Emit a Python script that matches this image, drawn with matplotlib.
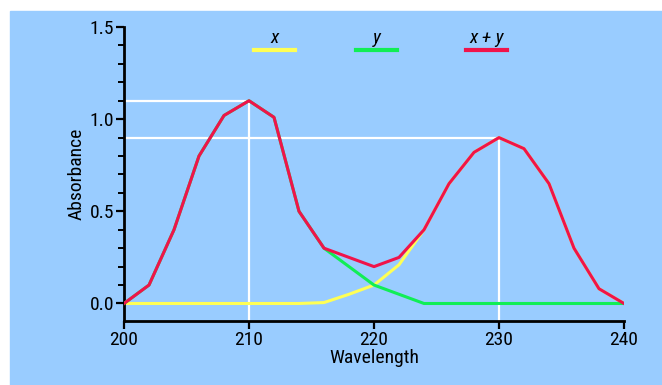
import matplotlib
matplotlib.use("Agg")
import matplotlib.pyplot as plt
from matplotlib import font_manager
from matplotlib.patches import Rectangle
from matplotlib.ticker import MultipleLocator

# wavelength grid and absorbance readings
wavelength = [200, 202, 204, 206, 208, 210, 212, 214, 216, 218, 220,
              222, 224, 226, 228, 230, 232, 234, 236, 238, 240]
abs_x = [0, 0, 0, 0, 0, 0, 0, 0, 0.005, 0.05, 0.1,
         0.21, 0.4, 0.65, 0.82, 0.9, 0.84, 0.65, 0.3, 0.08, 0]
abs_y = [0, 0.1, 0.4, 0.8, 1.02, 1.1, 1.01, 0.5, 0.3, 0.2, 0.1,
         0.05, 0, 0, 0, 0, 0, 0, 0, 0, 0]
abs_sum = [0, 0.1, 0.4, 0.8, 1.02, 1.1, 1.01, 0.5, 0.3, 0.25, 0.2,
           0.25, 0.4, 0.65, 0.82, 0.9, 0.84, 0.65, 0.3, 0.08, 0]
peaks = [(210, 1.1), (230, 0.9)]
labels = ["x", "y", "x + y"]

BLUE = "#99ccff"
YELLOW = "#ffff55"
GREEN = "#11ee55"
RED = "#f0134a"

# narrow font if there is one
have = {f.name for f in font_manager.fontManager.ttflist}
fam = "DejaVu Sans"
for cand in ["Liberation Sans Narrow", "DejaVu Sans Condensed", "Roboto Condensed"]:
    if cand in have:
        fam = cand
        break
plt.rcParams["font.family"] = [fam, "DejaVu Sans"]

fig = plt.figure(figsize=(6.62, 3.85), dpi=100, facecolor="white")
fig.patches.append(Rectangle((10 / 662, 0), 1 - 10 / 662, 1 - 11 / 385,
                             transform=fig.transFigure, color=BLUE, zorder=-5))
ax = fig.add_axes([124 / 662, 64 / 385, 500 / 662, 294 / 385])
ax.set_facecolor("none")

# white guide lines to the two maxima
for px, py in peaks:
    ax.plot([px, px], [-0.1, py], color="white", lw=1.6, zorder=1, clip_on=False)
    ax.plot([200, px], [py, py], color="white", lw=1.6, zorder=1)

ax.plot(wavelength, abs_x, color=YELLOW, lw=2.2, zorder=2)
ax.plot(wavelength, abs_y, color=GREEN, lw=2.2, zorder=3)
ax.plot(wavelength, abs_sum, color=RED, lw=2.2, zorder=4)

ax.set_xlim(200, 240)
ax.set_ylim(-0.095, 1.5)
ax.set_xticks([200, 210, 220, 230, 240])
ax.set_yticks([0.0, 0.5, 1.0, 1.5])
ax.set_yticklabels(["0.0", "0.5", "1.0", "1.5"])
ax.yaxis.set_minor_locator(MultipleLocator(0.1))
ax.tick_params(axis="both", which="major", direction="out", length=6,
               width=1.6, labelsize=14, pad=1)
ax.tick_params(axis="y", which="minor", direction="out", length=4, width=1.4)
for s in ["top", "right"]:
    ax.spines[s].set_visible(False)
for s in ["left", "bottom"]:
    ax.spines[s].set_linewidth(2)
ax.set_xlabel("Wavelength", fontsize=14, labelpad=0)
ax.set_ylabel("Absorbance", fontsize=14, labelpad=3)

# legend keys across the top
key_colors = [YELLOW, GREEN, RED]
key_left = [254, 356, 466]
for lab, col, xl in zip(labels, key_colors, key_left):
    x0 = xl / 662
    x1 = (xl + 41) / 662
    fig.add_artist(plt.Line2D([x0, x1], [1 - 50 / 385] * 2, color=col, lw=3,
                              transform=fig.transFigure))
    fig.text((x0 + x1) / 2, 1 - 47 / 385, lab, fontsize=14, style="italic",
             ha="center", va="bottom")

fig.savefig("out.png", dpi=100, facecolor="white")
